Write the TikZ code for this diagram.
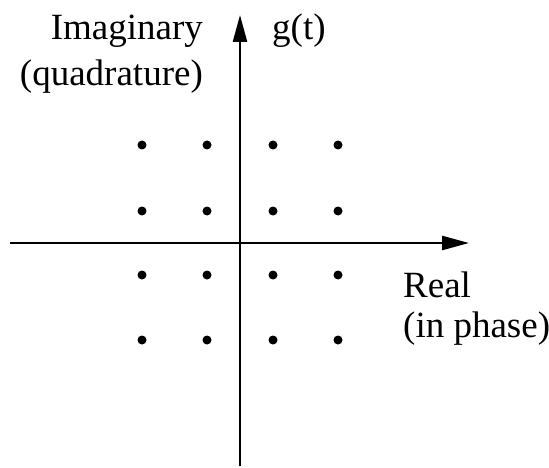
\documentclass[tikz,border=0pt]{standalone}
\usepackage{fontspec}
\setmainfont{Liberation Serif}
\usetikzlibrary{arrows.meta}
\begin{document}
\begin{tikzpicture}[x=1pt,y=-1pt,
  axis/.style={line width=2.5pt,-{Triangle[length=27pt,width=14pt]}},
  dot/.style={circle,fill=black,inner sep=0pt,minimum size=9pt},
  lbl/.style={font=\fontsize{37}{44}\selectfont,inner sep=0pt}]
\useasboundingbox (0,0) rectangle (549,468);
\coordinate (vb) at (240,466);
\coordinate (vt) at (240,15);
\coordinate (hl) at (10,243);
\coordinate (hr) at (469,243);
\draw[axis] (vb) -- (vt);
\draw[axis] (hl) -- (hr);
\foreach \i/\x in {1/142,2/207,3/273,4/338}{
  \foreach \j/\y in {1/145,2/211,3/275,4/340}{
    \node[dot] (d\i\j) at (\x,\y) {};
  }
}
\node[lbl,anchor=base east] (im) at (203,40) {Imaginary};
\node[lbl,anchor=base east] (quad) at (203,86) {(quadrature)};
\node[lbl,anchor=base west] (g) at (272,40) {g(t)};
\node[lbl,anchor=base west] (re) at (403,297) {Real};
\node[lbl,anchor=base west] (ph) at (403,337) {(in phase)};
\end{tikzpicture}
\end{document}
